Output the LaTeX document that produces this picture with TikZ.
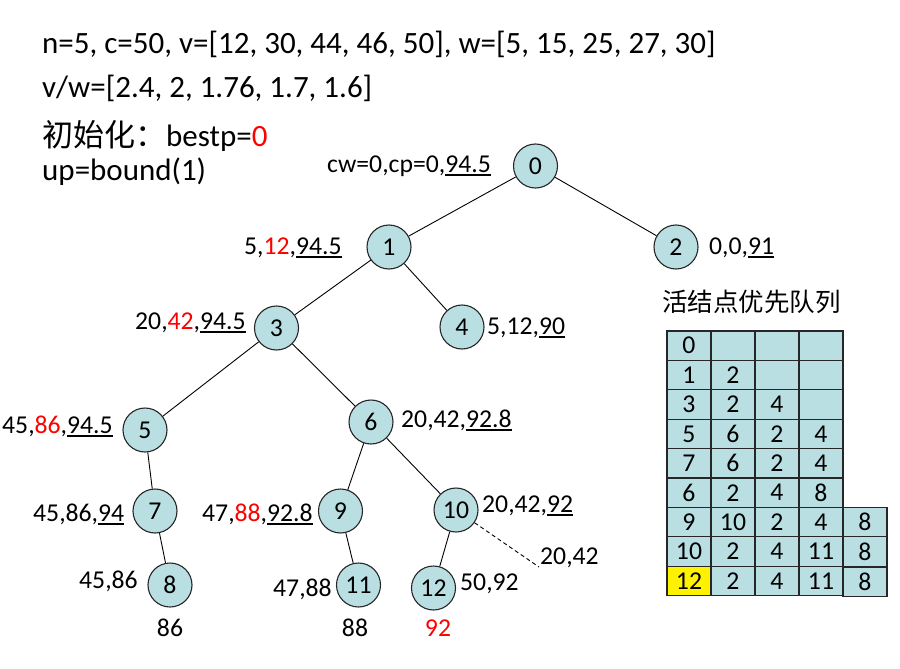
\documentclass[tikz,border=0pt]{standalone}
\usepackage{fontspec}
\setmainfont{Carlito}
\newfontfamily\cjk{Noto Sans CJK SC}
\definecolor{nodeblue}{RGB}{186,223,226}
\definecolor{hired}{RGB}{255,0,0}
\newcommand\ulin[1]{\setbox0\hbox{#1}\rlap{\rule[-3.6pt]{\wd0}{1.7pt}}\box0}
\newcommand\bigf{\fontsize{31}{36}\selectfont}
\newcommand\midf{\fontsize{25.7}{30}\selectfont}
\tikzset{
  tnode/.style={circle, draw=black!85, line width=1.1pt, fill=nodeblue, minimum size=44pt, inner sep=0pt, font=\midf},
  lbl/.style={inner sep=0pt, anchor=base west, font=\midf},
  toptext/.style={inner sep=0pt, anchor=base west, font=\bigf},
  cell/.style={rectangle, draw=black!85, line width=1.1pt, fill=nodeblue, minimum width=44pt, minimum height=29.4pt, inner sep=0pt, font=\midf},
  edge/.style={line width=0.9pt},
}
\begin{document}
\begin{tikzpicture}[x=1pt,y=-1pt]
\useasboundingbox (0,0) rectangle (900,669);
% top text
\node[toptext] (t1) at (42,53.5) {n=5, c=50, v=[12, 30, 44, 46, 50], w=[5, 15, 25, 27, 30]};
\node[toptext] (t2) at (42,97) {v/w=[2.4, 2, 1.76, 1.7, 1.6]};
\node[toptext] (t3) at (42,146) {{\cjk 初始化：}bestp=\textcolor{hired}{0}};
\node[toptext] (t4) at (42,180) {up=bound(1)};
% tree nodes
\node[tnode] (n0) at (535.5,166) {0};
\node[tnode] (n1) at (389,247) {1};
\node[tnode] (n2) at (676,247) {2};
\node[tnode] (n3) at (276.5,328) {3};
\node[tnode] (n4) at (462,327) {4};
\node[tnode] (n5) at (145,430) {5};
\node[tnode] (n6) at (371,422) {6};
\node[tnode] (n7) at (155,511) {7};
\node[tnode] (n8) at (170,585) {8};
\node[tnode] (n9) at (340.5,511) {9};
\node[tnode] (n10) at (456,510) {10};
\node[tnode] (n11) at (358.5,585) {11};
\node[tnode] (n12) at (433.5,588) {12};
\coordinate (dend) at (539,567);
% edges
\draw[edge] (n0) -- (n1);
\draw[edge] (n0) -- (n2);
\draw[edge] (n1) -- (n3);
\draw[edge] (n1) -- (n4);
\draw[edge] (n3) -- (n5);
\draw[edge] (n3) -- (n6);
\draw[edge] (n5) -- (n7);
\draw[edge] (n7) -- (n8);
\draw[edge] (n6) -- (n9);
\draw[edge] (n6) -- (n10);
\draw[edge] (n9) -- (n11);
\draw[edge] (n10) -- (n12);
\draw[edge, dash pattern=on 4pt off 3pt] (n10) -- (dend);
% labels
\node[lbl] (l0) at (327,172) {cw=0,cp=0,\ulin{94.5}};
\node[lbl] (l1) at (244,254) {5,\textcolor{hired}{12},\ulin{94.5}};
\node[lbl] (l2) at (709,254) {0,0,\ulin{91}};
\node[lbl] (l3) at (135,329.5) {20,\textcolor{hired}{42},\ulin{94.5}};
\node[lbl] (l4) at (487,334) {5,12,\ulin{90}};
\node[lbl] (l5) at (2,433) {45,\textcolor{hired}{86},\ulin{94.5}};
\node[lbl] (l6) at (401,427.5) {20,42,\ulin{92.8}};
\node[lbl] (l7) at (33,521) {45,86,\ulin{94}};
\node[lbl] (l9) at (202,521) {47,\textcolor{hired}{88},\ulin{92.8}};
\node[lbl] (l10) at (482,512.5) {20,42,\ulin{92}};
\node[lbl] (ld) at (540,564) {20,42};
\node[lbl] (l8) at (79,588) {45,86};
\node[lbl] (l11) at (273,596.5) {47,88};
\node[lbl] (l12) at (460,590) {50,92};
\node[inner sep=0pt, anchor=base, font=\midf] (r8) at (170,636) {86};
\node[inner sep=0pt, anchor=base, font=\midf] (r11) at (355,636) {88};
\node[inner sep=0pt, anchor=base, font=\midf, text=hired] (r12) at (438,636) {92};
% queue title
\node[inner sep=0pt, anchor=west, font={\cjk\fontsize{25.5}{30}\selectfont}] (qt) at (662,302) {活结点优先队列};
% queue table
\foreach \a/\b/\c/\d [count=\r] in {0/{}/{}/{},1/2/{}/{},3/2/4/{},5/6/2/4,7/6/2/4,6/2/4/8,9/10/2/4,10/2/4/11,12/2/4/11}{
  \node[cell] (q\r-1) at (689,{331+29.4*(\r-1)+14.7}) {\a};
  \node[cell] (q\r-2) at (733,{331+29.4*(\r-1)+14.7}) {\b};
  \node[cell] (q\r-3) at (777,{331+29.4*(\r-1)+14.7}) {\c};
  \node[cell] (q\r-4) at (821,{331+29.4*(\r-1)+14.7}) {\d};
}
\node[cell] (q7-5) at (865,{331+29.4*6+14.7}) {8};
\node[cell] (q8-5) at (865,{331+29.4*7+14.7}) {8};
\node[cell] (q9-5) at (865,{331+29.4*8+14.7+1}) {8};
\node[cell, fill=yellow] (q9-1y) at (689,{331+29.4*8+14.7}) {12};
\end{tikzpicture}
\end{document}
